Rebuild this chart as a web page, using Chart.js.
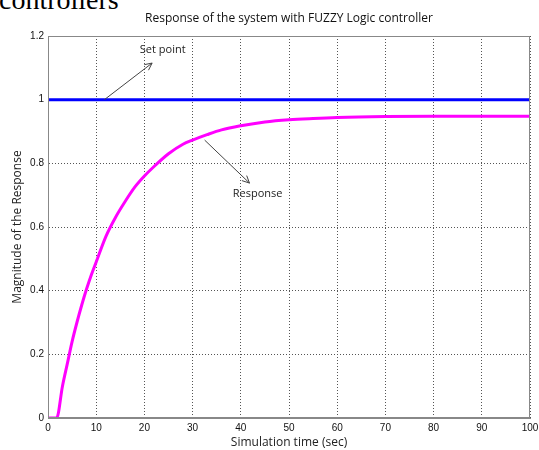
<!DOCTYPE html>
<html>
<head>
<meta charset="utf-8">
<script src="https://cdn.jsdelivr.net/npm/chart.js@4/dist/chart.umd.min.js"></script>
<style>
  body { margin: 0; background: #fff; }
  #wrap { position: relative; width: 539px; height: 450px; overflow: hidden; }
  #doc { position: absolute; left: -1px; top: -16px; font: 28px "Liberation Serif", serif; color: #000; }
  canvas { position: absolute; left: 0; top: 0; }
</style>
</head>
<body>
<div id="wrap">
  <div id="doc">controllers</div>
  <canvas id="myChart" width="539" height="450"></canvas>
</div>
<script>
const ctx = document.getElementById('myChart').getContext('2d');

const titleText = 'Response of the system with FUZZY Logic controller';
const xTitle = 'Simulation time (sec)';
const yTitle = 'Magnitude of the Response';

// simulation time (sec)
const times = [0, 1, 1.8, 3, 4, 5, 6, 7, 8, 9, 10, 12, 14, 16, 18, 20, 22, 25, 28, 30,
  33, 36, 40, 45, 50, 55, 60, 70, 80, 90, 100];
// system response
const response = [0, 0, 0, 0.1, 0.17, 0.24, 0.3, 0.355, 0.405, 0.45, 0.49, 0.57, 0.63, 0.68, 0.725, 0.76,
  0.79, 0.83, 0.86, 0.873, 0.89, 0.905, 0.918, 0.93, 0.937, 0.941, 0.944, 0.947, 0.948, 0.948, 0.948];
// set point
const setTimes = [0, 100];
const setPoint = [1, 1];

// annotations: [text, textX, textY, fromX, fromY, toX, toY]
const notes = [
  ['Set point', 23.8, 1.155, 11.7, 1.0, 21.6, 1.115],
  ['Response', 43.5, 0.705, 32.5, 0.873, 41.8, 0.738]
];

const toXY = (xs, ys) => xs.map((x, i) => ({ x: x, y: ys[i] }));

const drawExtras = {
  id: 'drawExtras',
  afterDraw(chart) {
    const c = chart.ctx;
    const xs = chart.scales.x, ys = chart.scales.y;
    const area = chart.chartArea;
    c.save();
    c.fillStyle = '#111';
    c.font = '12px "Open Sans", sans-serif';
    c.textAlign = 'center';
    c.textBaseline = 'middle';
    c.fillText(titleText, (area.left + area.right) / 2, 19);

    notes.forEach(n => {
      const tx = xs.getPixelForValue(n[1]), ty = ys.getPixelForValue(n[2]);
      const fx = xs.getPixelForValue(n[3]), fy = ys.getPixelForValue(n[4]);
      const ex = xs.getPixelForValue(n[5]), ey = ys.getPixelForValue(n[6]);
      c.fillStyle = '#222';
      c.font = '11px "Open Sans", sans-serif';
      c.fillText(n[0], tx, ty);
      c.strokeStyle = '#444';
      c.lineWidth = 1;
      c.beginPath();
      c.moveTo(fx, fy);
      c.lineTo(ex, ey);
      const a = Math.atan2(ey - fy, ex - fx);
      c.moveTo(ex, ey);
      c.lineTo(ex - 8 * Math.cos(a - 0.45), ey - 8 * Math.sin(a - 0.45));
      c.moveTo(ex, ey);
      c.lineTo(ex - 8 * Math.cos(a + 0.45), ey - 8 * Math.sin(a + 0.45));
      c.stroke();
    });
    c.restore();
  }
};

const tickFont = { family: 'Liberation Sans', size: 10 };

const config = {
  type: 'line',
  data: {
    datasets: [
      {
        label: 'Set point',
        data: toXY(setTimes, setPoint),
        borderColor: '#0000ff',
        borderWidth: 3,
        pointRadius: 0
      },
      {
        label: 'Response',
        data: toXY(times, response),
        borderColor: '#ff00ff',
        borderWidth: 3,
        pointRadius: 0,
        cubicInterpolationMode: 'monotone'
      }
    ]
  },
  options: {
    animation: false,
    responsive: false,
    layout: { padding: { top: 36, right: 9, left: 10, bottom: 0 } },
    plugins: {
      legend: { display: false },
      tooltip: { enabled: false }
    },
    scales: {
      x: {
        type: 'linear',
        min: 0,
        max: 100,
        ticks: { stepSize: 10, color: '#111', padding: 4, font: tickFont },
        grid: { color: '#555', lineWidth: 1, drawTicks: false },
        border: { display: true, color: '#888', width: 1, dash: [1, 2] },
        title: { display: true, text: xTitle, color: '#222', padding: { top: 2, bottom: 0 }, font: { family: 'Open Sans', size: 12 } },
        afterFit(scale) { scale.height = 32; scale.paddingRight = 0; }
      },
      y: {
        min: 0,
        max: 1.2,
        ticks: {
          stepSize: 0.2, color: '#111', padding: 4, font: tickFont,
          callback: v => String(Math.round(v * 10) / 10)
        },
        grid: { color: '#555', lineWidth: 1, drawTicks: false },
        border: { display: true, color: '#888', width: 1, dash: [1, 2] },
        title: { display: true, text: yTitle, color: '#222', padding: { top: 0, bottom: 4 }, font: { family: 'Open Sans', size: 12 } },
        afterFit(scale) { scale.width = 38; }
      }
    }
  },
  plugins: [drawExtras, {
    id: 'frame',
    afterDatasetsDraw(chart) {
      const a = chart.chartArea, c = chart.ctx;
      c.save();
      c.strokeStyle = '#888';
      c.lineWidth = 1;
      c.strokeRect(a.left + 0.5, a.top + 0.5, a.right - a.left - 1, a.bottom - a.top - 1);
      c.restore();
    }
  }]
};

// grid lines dotted
config.options.scales.x.grid.borderDash = [1, 2];
config.options.scales.y.grid.borderDash = [1, 2];
config.options.scales.x.border.dash = [1, 2];
config.options.scales.y.border.dash = [1, 2];

const myChart = new Chart(ctx, config);
</script>
</body>
</html>
